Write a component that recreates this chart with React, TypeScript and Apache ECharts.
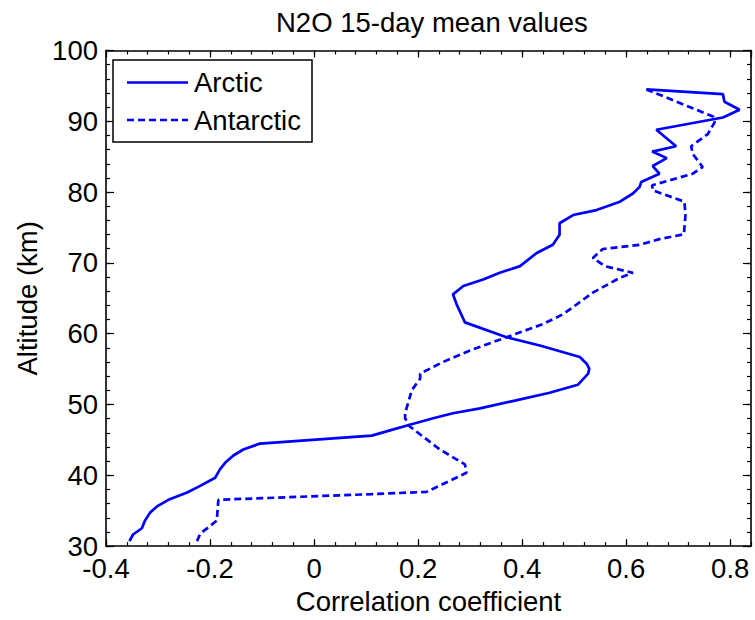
import React, { useEffect, useRef } from "react";
import * as echarts from "echarts";

const titleText = "N2O 15-day mean values";
const xAxisName = "Correlation coefficient";
const yAxisName = "Altitude (km)";
const seriesNames = ["Arctic", "Antarctic"];

const arcticCorr = [
  -0.355, -0.348, -0.331, -0.325, -0.315, -0.302, -0.28, -0.244, -0.219, -0.19,
  -0.181, -0.171, -0.155, -0.136, -0.104, 0.111, 0.146, 0.184, 0.229, 0.267,
  0.319, 0.386, 0.453, 0.507, 0.527, 0.529, 0.524, 0.511, 0.434, 0.37,
  0.29, 0.274, 0.267, 0.287, 0.325, 0.357, 0.396, 0.428, 0.459, 0.472,
  0.472, 0.498, 0.543, 0.588, 0.613, 0.626, 0.629, 0.664, 0.651, 0.678,
  0.65, 0.696, 0.658, 0.786, 0.818, 0.789, 0.786, 0.639,
];
const arcticAlt = [
  30.7, 31.64, 32.52, 33.6, 34.76, 35.6, 36.54, 37.56, 38.5, 39.66,
  40.84, 41.76, 42.8, 43.64, 44.48, 45.6, 46.34, 47.14, 48.06, 48.76,
  49.46, 50.54, 51.66, 52.78, 54.36, 55.06, 55.76, 56.7, 58.34, 59.5,
  61.6, 64.16, 65.56, 66.74, 67.66, 68.6, 69.54, 71.4, 72.56, 73.96,
  75.6, 76.76, 77.46, 78.64, 79.8, 80.74, 81.44, 82.6, 83.68, 84.8,
  85.72, 86.48, 88.8, 90.54, 91.64, 92.76, 93.84, 94.5,
];

const antarcticCorr = [
  -0.225, -0.219, -0.187, -0.184, 0.111, 0.216, 0.267, 0.293, 0.29, 0.242,
  0.184, 0.175, 0.175, 0.188, 0.204, 0.204, 0.248, 0.3, 0.37, 0.44,
  0.479, 0.536, 0.588, 0.613, 0.559, 0.536, 0.555, 0.626, 0.664, 0.711,
  0.714, 0.712, 0.651, 0.65, 0.728, 0.747, 0.728, 0.725, 0.757, 0.77,
  0.767, 0.639,
];
const antarcticAlt = [
  30.7, 31.74, 33.6, 36.54, 37.34, 37.66, 39.44, 40.36, 41.54, 43.64,
  46.9, 48.06, 48.76, 52.04, 53.66, 54.36, 56.0, 57.64, 59.5, 61.36,
  62.76, 65.8, 67.9, 68.6, 69.54, 70.7, 71.96, 72.56, 73.36, 74.04,
  76.76, 78.64, 80.26, 80.96, 82.6, 83.54, 85.4, 86.48, 88.2, 89.84,
  90.68, 94.5,
];

const xMin = -0.4;
const xMax = 0.84;
const xMajor = 0.2;
const xMinor = 0.04;
const yMin = 30;
const yMax = 100;
const yMajor = 10;
const yMinor = 2;

const FONT = "'Liberation Sans', Arial, Helvetica, sans-serif";
const FS = 27.5;
const BLUE = "#0000ff";
const DASH = [7, 4];

function zip(xs: number[], ys: number[]) {
  return xs.map((x, i) => [x, ys[i]]);
}

export default function App() {
  const ref = useRef<HTMLDivElement>(null);
  useEffect(() => {
    if (!ref.current) return;
    const chart = echarts.init(ref.current, undefined, { renderer: "svg" });
    const lineAxis = { show: true, onZero: false, lineStyle: { color: "#000", width: 1.6 } };
    const noLine = { show: false, onZero: false };
    const mkX = (pos: string, major: boolean, labels: boolean) => ({
      type: "value",
      position: pos,
      min: xMin,
      max: xMax,
      interval: major ? xMajor : xMinor,
      axisLine: major ? lineAxis : noLine,
      axisTick: {
        show: true,
        inside: true,
        length: major ? 7 : 4,
        lineStyle: { color: "#000", width: 1.2 },
      },
      axisLabel: labels
        ? {
            show: true,
            color: "#000",
            fontSize: FS,
            fontFamily: FONT,
            margin: 8,
            showMaxLabel: false,
            formatter: (v: number) => String(Math.round(v * 10) / 10),
          }
        : { show: false },
      splitLine: { show: false },
      ...(labels
        ? {
            name: xAxisName,
            nameLocation: "middle",
            nameGap: 38,
            nameTextStyle: { color: "#000", fontSize: FS, fontFamily: FONT },
          }
        : {}),
    });
    const mkY = (pos: string, major: boolean, labels: boolean) => ({
      type: "value",
      position: pos,
      min: yMin,
      max: yMax,
      interval: major ? yMajor : yMinor,
      axisLine: major ? lineAxis : noLine,
      axisTick: {
        show: true,
        inside: true,
        length: major ? 8 : 4,
        lineStyle: { color: "#000", width: 1.2 },
      },
      axisLabel: labels
        ? { show: true, color: "#000", fontSize: FS, fontFamily: FONT, margin: 8 }
        : { show: false },
      splitLine: { show: false },
      ...(labels
        ? {
            name: yAxisName,
            nameLocation: "middle",
            nameGap: 64,
            nameTextStyle: { color: "#000", fontSize: FS, fontFamily: FONT },
          }
        : {}),
    });

    // hand-drawn legend box (MATLAB style)
    const lgX = 113;
    const lgY = 60;
    const lgW = 199;
    const lgH = 82;
    const rowY = [82.5, 120];
    const legendGraphics: any[] = [
      {
        type: "rect",
        shape: { x: lgX, y: lgY, width: lgW, height: lgH },
        style: { fill: "#fff", stroke: "#000", lineWidth: 1.5 },
        z: 100,
      },
    ];
    seriesNames.forEach((name, i) => {
      legendGraphics.push({
        type: "line",
        shape: { x1: 127, y1: rowY[i], x2: 188, y2: rowY[i] },
        style: {
          stroke: BLUE,
          lineWidth: 2.7,
          lineDash: i === 0 ? null : DASH,
        },
        z: 101,
      });
      legendGraphics.push({
        type: "text",
        x: 194,
        y: rowY[i],
        style: {
          text: name,
          fill: "#000",
          font: `${FS}px ${FONT}`,
          textVerticalAlign: "middle",
          verticalAlign: "middle",
        },
        z: 101,
      });
    });

    chart.setOption({
      animation: false,
      backgroundColor: "#fff",
      title: {
        text: titleText,
        left: 271,
        top: 3,
        textStyle: {
          color: "#000",
          fontSize: FS,
          fontWeight: "normal",
          fontFamily: FONT,
        },
      },
      graphic: legendGraphics,
      grid: { left: 106, right: 4, top: 50.5, bottom: 69.5, containLabel: false },
      xAxis: [
        mkX("bottom", true, true),
        mkX("bottom", false, false),
        mkX("top", true, false),
        mkX("top", false, false),
      ],
      yAxis: [
        mkY("left", true, true),
        mkY("left", false, false),
        mkY("right", true, false),
        mkY("right", false, false),
      ],
      series: [
        {
          name: seriesNames[0],
          type: "line",
          xAxisIndex: 0,
          yAxisIndex: 0,
          symbol: "none",
          showSymbol: false,
          lineStyle: { color: BLUE, width: 2.7, type: "solid" },
          itemStyle: { color: BLUE },
          data: zip(arcticCorr, arcticAlt),
        },
        {
          name: seriesNames[1],
          type: "line",
          xAxisIndex: 0,
          yAxisIndex: 0,
          symbol: "none",
          showSymbol: false,
          lineStyle: { color: BLUE, width: 2.7, type: DASH },
          itemStyle: { color: BLUE },
          data: zip(antarcticCorr, antarcticAlt),
        },
      ],
    });
    return () => chart.dispose();
  }, []);
  return (
    <div
      ref={ref}
      style={{ position: "fixed", left: 0, top: 0, width: 755, height: 620, background: "#fff" }}
    />
  );
}
